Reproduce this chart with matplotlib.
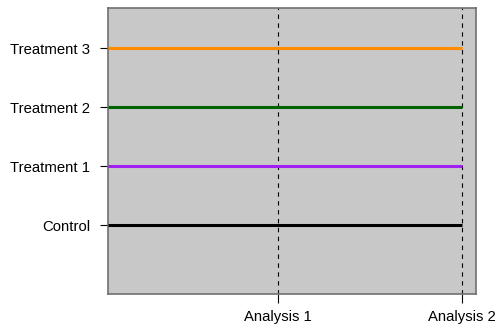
import matplotlib.pyplot as plt

plt.rcParams['font.family'] = ['Liberation Sans', 'DejaVu Sans']

# arms from bottom to top and their colours
arms = ['Control', 'Treatment 1', 'Treatment 2', 'Treatment 3']
arm_colors = ['#000000', '#A020F0', '#006400', '#FF8C00']
# timing of the interim and final analyses (information fraction)
analysis_labels = ['Analysis 1', 'Analysis 2']
analysis_times = [0.48, 1.0]

fig = plt.figure(figsize=(5, 3.31), dpi=100)
ax = fig.add_axes([0.2166, 0.1118, 0.7348, 0.864])
ax.set_facecolor('#C8C8C8')

for i, (arm, col) in enumerate(zip(arms, arm_colors)):
    ax.plot([0, analysis_times[-1]], [i, i], color=col, lw=2.2,
            solid_capstyle='butt', zorder=3)

for t in analysis_times:
    ax.axvline(t, color='black', lw=0.8, ls=(0, (4, 4)), zorder=2)

ax.set_xlim(0, 1.038)
ax.set_ylim(-1.17, 3.68)
ax.set_yticks(range(len(arms)))
ax.set_yticklabels(arms)
ax.set_xticks(analysis_times)
ax.set_xticklabels(analysis_labels)
ax.tick_params(axis='y', length=6, width=0.8, pad=7, labelsize=10.7)
ax.tick_params(axis='x', length=6.5, width=0.8, pad=5, labelsize=10.7)

for sp in ax.spines.values():
    sp.set_color('#707070')
    sp.set_linewidth(1.2)

fig.savefig('out.png', dpi=100)
